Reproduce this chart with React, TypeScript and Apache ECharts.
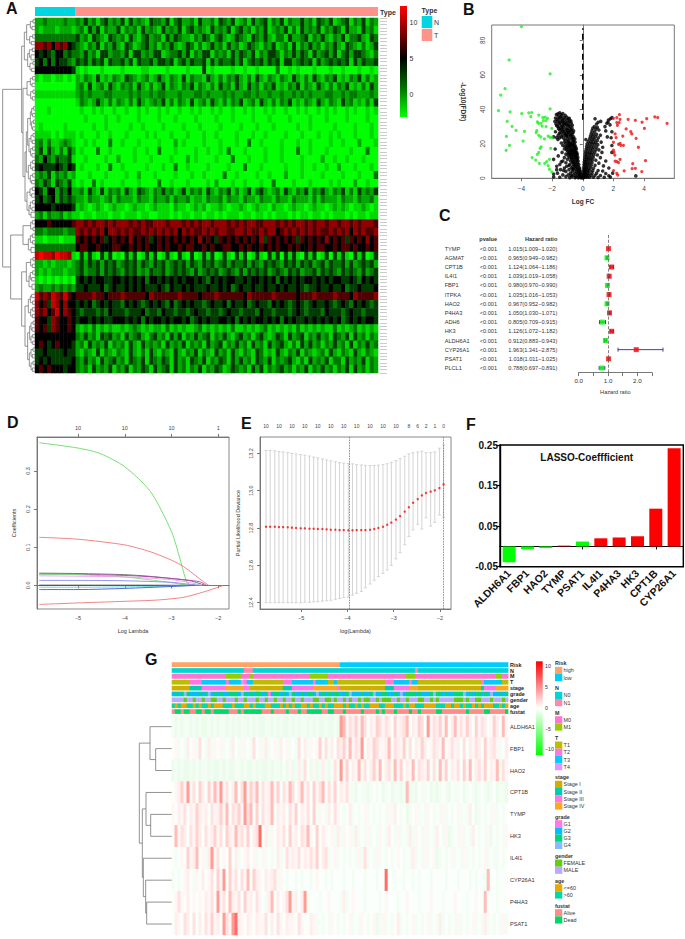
import React, { useEffect, useRef } from "react";
import * as echarts from "echarts";

const FONT = "'Liberation Sans', Arial, sans-serif";

// ---------- Panel A: expression heatmap (first 10 columns N, then 74 T; digit = expression level)
const heatA = [
"2232222322 3242313423 2414232143 3241342231 4223143241 2314234132 4132242314 3241 2341324132",
"2122212221 2314241322 4132314232 1423241342 3214232413 4231324123 2413142324 1324 3142214231",
"3333333333 4231432143 2314213423 3142432213 2431342124 3214324213 3142234132 4213 2413342143",
"7767576754 3213241324 2143123423 1324212431 3124231423 1243213241 2314132423 1324 2143213124",
"5454355343 3242314423 3241442324 4123342413 2441323142 4324132443 1324243142 3424 1342443213",
"4535354432 4342434143 3424143342 4434134243 3414243342 4134342434 1442343414 2343 4341424334",
"5555555554 1010001000 0100001100 0010000100 0401000010 0100100003 0010100010 0010 0100010010",
"1011011010 2132141213 2143212312 4213214132 2142131324 2131421321 3214213142 1324 1213241312",
"0000000000 2314123142 1323142131 2413213241 3213142314 2142313241 2132413214 2131 3241213142",
"1111111111 2323222332 2223232232 3322232223 3232223232 2332322322 3223232322 2332 2323322232",
"0000000000 1321242131 3213142123 2413132141 2314213132 4123142131 3241213214 2132 1423121314",
"0001000000 0100101001 0010010100 1010010010 1001010010 0101001010 0100101001 0101 0010100101",
"0000000000 0010000100 1000010000 1000100001 0000100010 0001000100 0010000100 0100 0010000100",
"0100000100 0000100100 0001001000 0100001000 1000010000 1000100010 0000100100 0001 0000100010",
"1111010111 0100010010 0010000101 0001000100 0100100001 0001001000 0100010001 0010 1000100010",
"2313112321 0010100030 0100010000 1000201000 0100010001 0030010000 1000100100 0010 0100020001",
"2414213142 0100030010 0000100100 3000100001 0010010300 0100001000 1000300100 0100 0001000300",
"3253243341 0010000100 2000100010 0001000201 0000100030 0010001000 1000010000 2001 0010001000",
"4544454354 0100010030 0100000100 0100300100 0010000100 0300010000 0100010010 0100 2000100010",
"2324132312 0001000100 0010020001 0000100010 0100003001 0000100100 0200010000 1000 0100010003",
"3243143241 0100301000 0100010000 3001000100 0010200010 0100010030 0001000100 0010 1000200100",
"5425524352 2314214132 3142143213 2423124132 3142132413 1241342123 1421324132 4213 2413142324",
"4534524343 2213221231 3222132213 2231322312 2132231322 1322132213 2213222131 3222 1322132231",
"5555455554 1210121012 1101211012 1110211012 1201121011 2101211021 1012110121 1012 1210112101",
"2313223121 1011011101 1011101100 1110101101 1011010111 0110110101 1101011011 0101 1101011011",
"5556555556 7767677676 7776767667 7767776767 6776777676 7677667776 7676776767 7677 6776767776",
"3323333233 7676767577 6767667676 7676757676 6767677667 7676676775 6767676767 6676 7675767667",
"1101110111 6565656456 5657565645 6565656565 7565465656 5656574656 5656465656 5756 5646565756",
"3333333333 5665565556 6556565655 6565565665 5656556655 6565565656 5565655656 6556 5665655656",
"8988798871 0414104140 1041401414 0141041040 1414014104 1401410414 0414104140 1404 1410414014",
"2212122212 3424342434 2343424324 3423434243 2434234243 3424324343 2434243423 4243 3424234342",
"2121222122 3423342434 3243423243 3423434324 2343423432 4243434234 3243423342 4343 2434324234",
"1010101010 4545455445 5454545355 4545454554 5435454554 4545545453 5454545545 4545 5445435454",
"2322323232 4454445345 4454545444 5435445454 4454454534 5445445445 4544543445 4454 4534454445",
"8676876865 6666766566 6766666576 6666676666 5666766666 6576666676 6666566676 6667 6665766667",
"7564875755 4545345454 4354543454 5435345454 4345445354 4534544354 5434543454 4543 4543545434",
"7675685765 4344434354 4434445344 3544344345 4434434544 3444354434 4434543444 3544 4345443444",
"6554765565 4554545445 5545453545 5454554534 5454455453 5454554545 3545445454 5454 5345454554",
"6564765565 2121312121 1212321212 2131212112 3121212131 1212123121 2121312121 2113 1212312121",
"5555555555 3242314342 3142342134 2314241324 2341324213 4231342124 3142341324 2314 3241423132",
"5654565554 2314232413 2314214232 3142324132 3142341324 2314231423 4213142423 1324 2314132423",
"4454444544 2132141321 3214213142 1321421324 1321423142 1321431214 2132413212 3142 1321421321",
"4545444445 3242314234 2314324143 2431423143 2413243142 4231432413 2342131423 2413 3142324132",
"5656555455 3231423241 3241324314 2341423132 4132431243 2314241323 4231324132 4231 3241423132",
];
const heatAColors = ["#00ff00","#00d800","#00a800","#007800","#003c00","#000000","#500000","#900000","#c80000","#ff0000"];
// [height, y1, y2, child height 1, child height 2] in gene rows
const dendroA = [
[6,0.5,1.5,0,0],[9,2.5,3.5,0,0],[14,1,3,6,9],[7,5,6,0,0],[11,7,8,0,0],[16,5.5,7.5,7,11],[25,2,6.5,14,16],
[8,9,10,0,0],[12,11,12.5,0,0],[17,9.5,11.7,8,12],[6,13,14,0,0],[10,15,16,0,0],[15,13.5,15.5,6,10],[22,10.6,14.5,17,15],[32,4.25,12.5,25,22],
[7,17.5,18.5,0,0],[9,19.5,20.5,0,0],[14,18,20,7,9],[6,21.5,22.5,0,0],[8,23.5,24.5,0,0],[13,22,24,6,8],[24,19,23,14,13],
[5,26.5,27.5,0,0],[7,28.5,29.5,0,0],[10,27,29,5,7],[5,30.5,31.5,0,0],[7,32.5,33.5,0,0],[10,31,33,5,7],[14,28,32,10,10],
[6,34.5,35.5,0,0],[8,36.5,37.5,0,0],[12,35,37,6,8],[7,38.5,39.5,0,0],[9,40.5,41.5,0,0],[13,39,41,7,9],[18,36,40,12,13],[22,30,38,14,18],
[7,42.5,43.5,0,0],[8,44.5,45.5,0,0],[13,43,45,7,8],[7,46.5,47.5,0,0],[10,48.5,49.5,0,0],[14,47,49,7,10],[20,44,48,13,14],[26,34,46,22,20],
[8,50.5,51.5,0,0],[10,52.5,53.5,0,0],[15,51,53,8,10],[7,54.5,55.5,0,0],[9,56.5,57.5,0,0],[12,58,59.5,0,0],[14,55,57,7,9],[18,56,58.75,14,12],[24,52,57.4,15,18],[30,40,54.7,26,24],
[36,21,47.35,24,30],[40,8.4,34.2,32,36],
[8,60.5,61.5,0,0],[6,62.5,63.5,0,0],[13,61,63,8,6],[8,64.5,65.5,0,0],[7,66.5,67.5,0,0],[12,68.5,70,0,0],[14,65,67,8,7],[20,66,69.25,14,12],[36,62,67.6,13,20],
[6,71.5,72.5,0,0],[8,73.5,74.5,0,0],[13,72,74,6,8],[7,75.5,76.5,0,0],[10,77.5,78.5,0,0],[14,76,78,7,10],[9,79.5,81,0,0],[18,77,80.25,14,9],[26,73,78.6,13,18],
[10,82.5,83.5,0,0],[7,84.5,85.5,0,0],[14,83,85,10,7],[8,86.5,87.5,0,0],[8,88.5,89.5,0,0],[13,87,89,8,8],[20,84,88,14,13],
[6,90.5,91.5,0,0],[9,92.5,93.5,0,0],[12,91,93,6,9],[7,94.5,95.5,0,0],[7,96.5,97.5,0,0],[12,95,97,7,7],[16,92,96,12,12],
[6,98.5,99.5,0,0],[8,100.5,101.5,0,0],[12,99,101,6,8],[6,102.5,103.5,0,0],[8,104.5,105.5,0,0],[12,103,105,6,8],[17,100,104,12,12],[22,94,102,16,17],
[30,86,98,20,22],[40,75.8,92,26,30],[73,64.8,83.9,36,40],[97,21.3,74.35,40,73],
];

// ---------- Panel B: volcano
const volcanoGreen = [[-4,87.9],[-4.8,68.6],[-2.13,60.5],[-5.07,52],[-5.35,48.3],[-5.5,39.2],[-2.13,40.2],[-4.74,38.5],[-3.98,37.5],[-3.52,37.9],[-3.33,38.1],[-3.39,35.7],[-2.87,36.7],[-4.93,33],[-4.61,30.1],[-4.35,27.8],[-3.8,27.2],[-3.89,21.6],[-4.98,24.3],[-4.78,19.1],[-5,16.2],[-3.3,12],[-2.96,13.9],[-2.78,17.4],[-2.72,18.2],[-2.87,15.1],[-3.07,10.6],[-2.83,8.7],[-2.48,8.7],[-2.35,9.7],[-2.17,11],[-2.26,7.3],[-2.17,5.2],[-2.02,3.7],[-2.96,32.7],[-2.89,31.9],[-2.61,35.2],[-2.46,35.4],[-2.3,34.8],[-2.57,33.4],[-2.39,33.4],[-2.65,30.3],[-2.39,30],[-3,27.6],[-3.04,26.5],[-2.87,24.9],[-2.74,24],[-2.5,22.8],[-2.26,24.5],[-2.13,23.8],[-2,23.6],[-2.09,17.4],[-2.02,29],[-2.72,31.9]];
const volcanoRed = [[2,34.8],[2.22,35.2],[2.39,36.9],[2.43,34.2],[2.96,34.2],[3.43,33.6],[3.87,32.5],[4.17,34.6],[4.7,35.6],[4.89,35.2],[5.5,31.9],[4.02,29],[3.13,27.1],[3.2,25.7],[3.48,23.2],[2.22,32.3],[2.37,32.3],[2.26,30.7],[2.83,28.6],[2.11,25.7],[2.61,24.5],[2.17,23.6],[2,20.9],[2.33,19.7],[2.43,20.3],[2.48,19.1],[2.65,19.1],[3.63,18],[2,16.4],[2.04,15.1],[2.09,13.5],[2.43,11],[2.22,9.7],[2.11,10],[2.33,9.1],[3.26,8.5],[4.09,10.2],[2,4.4],[2.22,2.9],[2.28,1.9],[2.7,4.3],[3.22,5.6],[3.43,5.8],[3.85,3.9]];
const volcanoBlackLeft = [[-1.72,37],[-1.5,38],[-1.3,37.5],[-1.15,36.5],[-1.6,36],[-1.4,36],[-1.05,35.5],[-0.95,34.5],[-1.78,35],[-1.55,34.5],[-1.35,34.5],[-1.2,34],[-0.85,33],[-1.65,33],[-1.45,33],[-1.28,32.5],[-1.1,32.5],[-0.95,32],[-0.75,32],[-1.75,31.5],[-1.55,31.5],[-1.38,31],[-1.18,31],[-1,30.5],[-0.82,30],[-1.62,30],[-1.45,29.5],[-1.25,29.5],[-1.08,29],[-0.9,28.8],[-0.7,29],[-1.5,28],[-1.3,28],[-1.15,27.5],[-0.98,27.5],[-0.8,27.2],[-0.6,27.5],[-1.42,26.5],[-1.2,26.2],[-1.05,26],[-0.88,25.8],[-0.7,25.5],[-1.6,25],[-1.32,25],[-1.12,24.6],[-0.95,24.3],[-0.78,24.2],[-0.6,24],[-1.9,24],[-1.7,23.6],[-1.5,23.5],[-1.25,23.3],[-1.02,23],[-0.85,22.8],[-0.68,22.6],[-0.52,22.8],[-1.2,21],[-1,21.2],[-0.82,20.8],[-0.65,21],[-0.5,21],[-1.1,20],[-0.92,20],[-0.75,19.8],[-0.58,20],[-1.3,19],[-0.98,19],[-0.85,18.8],[-0.68,19],[-0.5,19],[-1.05,18],[-0.8,18],[-0.62,18],[-0.45,17.8],[-1.8,17],[-1.2,17],[-0.9,17],[-0.72,17],[-0.55,16.8],[-0.42,17],[-1,16],[-0.82,16],[-0.66,16],[-0.48,16],[-1.35,15],[-0.9,15],[-0.75,15],[-0.58,15],[-0.4,15],[-1.1,14],[-0.82,14],[-0.65,14],[-0.5,14],[-0.36,14],[-1.6,13],[-0.95,13],[-0.72,13],[-0.55,13],[-0.38,13],[-1.2,12],[-0.85,12],[-0.62,12],[-0.46,12],[-0.32,12],[-1.9,11],[-1,11],[-0.72,11],[-0.55,11],[-0.36,11],[-1.3,10],[-0.8,10],[-0.6,10],[-0.42,10],[-0.3,10],[-1.1,9],[-0.7,9],[-0.5,9],[-0.34,9],[-1.5,8],[-0.85,8],[-0.58,8],[-0.4,8],[-0.26,8],[-1.7,7],[-1.05,7],[-0.65,7],[-0.46,7],[-0.3,7],[-1.2,6],[-0.75,6],[-0.5,6],[-0.34,6],[-0.2,6],[-1.45,5],[-0.9,5],[-0.6,5],[-0.38,5],[-0.22,5],[-1.1,4],[-0.68,4],[-0.42,4],[-0.26,4],[-0.15,4],[-1.65,3],[-0.8,3],[-0.5,3],[-0.3,3],[-0.17,3],[-1.3,2],[-0.95,2],[-0.6,2],[-0.36,2],[-0.2,2],[-0.1,2],[-1.1,1],[-0.7,1],[-0.45,1],[-0.25,1],[-0.12,1],[-0.05,1],[-0.85,0.4],[-0.5,0.4],[-0.3,0.4],[-0.15,0.4],[-0.06,0.4]];
const volcanoBlackLeftMore = [[-1.62,37.4],[-1.42,37],[-1.22,35.2],[-0.88,34.8],[-1.68,34],[-1.48,35.3],[-1.02,33.6],[-0.78,33.4],[-1.82,33],[-1.33,33.3],[-1.52,32.2],[-1.22,32],[-0.9,30.8],[-1.7,30.5],[-1.33,30.2],[-1.06,31.2],[-0.68,30.8],[-1.58,28.8],[-1.38,28.6],[-1.02,28.2],[-0.76,28.1],[-1.78,27],[-1.28,27],[-0.92,26.7],[-0.64,26.4],[-1.52,26.1],[-1.1,25.4],[-0.78,25.1],[-1.4,24.2],[-1.05,24.8],[-0.66,23.4],[-1.62,22.5],[-1.15,22.2],[-0.94,21.6],[-0.6,21.8],[-1.4,20.5],[-0.85,20.2],[-0.66,19.6],[-1.15,18.5],[-0.92,18.2],[-0.55,18.4],[-1.05,16.6],[-0.75,16.2],[-0.56,15.6],[-0.95,14.4],[-0.7,14.6],[-0.44,14.6],[-0.8,13.5],[-0.48,13.2],[-0.72,11.8],[-0.42,11.4],[-1.4,9.5],[-0.62,9.3],[-0.9,7.4],[-0.5,7.5],[-1.7,5],[-0.65,5.6],[-1.9,2.5],[-0.75,1.6],[-1.5,0.6],[-1.9,0.8],[-1.25,4.5]];
const volcanoBlackRight = [[0.8,34.5],[1.17,33],[1.67,33.8],[1.9,35.2],[1.8,34.5],[1.57,31.9],[1.78,31],[1.65,32.5],[1.45,30],[0.9,31.5],[1,32.5],[0.75,30],[0.95,29.5],[0.65,29],[0.85,28.5],[1.05,28],[0.6,27.5],[0.78,27],[1.5,27.5],[1.9,27],[0.55,26],[0.7,25.5],[0.9,25.5],[1.15,25],[0.5,24.5],[0.65,24],[0.82,24],[1.02,23.5],[1.6,24],[1.85,23.5],[0.45,23],[0.6,22.6],[0.75,22.5],[0.95,22],[0.2,22.5],[0.35,21.5],[0.52,21.2],[0.68,21],[0.85,20.8],[1.2,21],[0.28,20],[0.45,20],[0.6,19.8],[0.78,19.5],[0.98,19.5],[1.9,19],[0.25,18.5],[0.4,18.5],[0.55,18.3],[0.7,18],[0.9,18],[1.3,18],[0.22,17],[0.35,17],[0.5,16.8],[0.65,16.6],[0.85,16.5],[1.05,16.5],[0.18,15.5],[0.32,15.4],[0.46,15.2],[0.6,15],[0.78,15],[1.25,15],[1.9,15],[0.16,14],[0.28,14],[0.42,13.8],[0.55,13.6],[0.72,13.5],[0.95,13.5],[0.14,12.5],[0.26,12.4],[0.38,12.2],[0.52,12],[0.68,12],[1.15,12],[0.12,11],[0.24,11],[0.35,10.8],[0.48,10.6],[0.62,10.5],[0.85,10.5],[1.5,10],[0.1,9.5],[0.2,9.5],[0.32,9.2],[0.45,9],[0.6,9],[1.05,8.8],[0.08,8],[0.18,8],[0.28,7.8],[0.4,7.6],[0.55,7.5],[0.8,7.5],[1.35,7.2],[0.07,6.5],[0.16,6.4],[0.25,6.2],[0.36,6],[0.5,6],[0.7,5.8],[1.7,6],[0.05,5],[0.13,5],[0.22,4.8],[0.32,4.6],[0.45,4.5],[0.65,4.4],[1,4.5],[1.3,4.2],[0.04,3.5],[0.1,3.4],[0.18,3.3],[0.28,3.2],[0.4,3],[0.6,3],[0.9,3],[1.5,2.8],[1.95,3],[0.03,2],[0.08,2],[0.15,2],[0.24,1.9],[0.36,1.8],[0.55,1.7],[0.8,1.8],[1.15,1.6],[1.7,1.5],[0.02,1],[0.06,1],[0.12,0.9],[0.2,0.8],[0.3,0.7],[0.45,0.6],[0.7,0.6],[1,0.5],[1.4,0.6],[1.8,0.7],[0.01,0.3],[0.04,0.3],[3.46,1.4]];

// ---------- Panel C: forest plot
const coxGenes = ["TYMP","AGMAT","CPT1B","IL4I1","FBP1","ITPKA","HAO2","P4HA3","ADH6","HK3","ALDH6A1","CYP26A1","PSAT1","PLCL1"];
const coxHr = [1.015,0.965,1.124,1.039,0.98,1.035,0.967,1.05,0.805,1.126,0.912,1.963,1.018,0.788];
const coxLow = [1.009,0.949,1.064,1.019,0.97,1.016,0.952,1.03,0.709,1.072,0.883,1.341,1.011,0.697];
const coxHigh = [1.02,0.982,1.186,1.058,0.99,1.053,0.982,1.071,0.915,1.182,0.943,2.875,1.025,0.891];

// ---------- Panel D: LASSO coefficient paths
const pathColors = ["#66dd66","#ee7777","#666666","#aa44aa","#77dd77","#ee99ee","#8888ee","#444444","#55dddd","#4455dd","#ee7777"];
const pathData = [
 [[-5.83,0.374],[-5,0.36],[-4.53,0.346],[-4,0.311],[-3.45,0.246],[-3,0.141],[-2.82,0.07],[-2.68,0.01],[-2.6,0]],
 [[-5.83,0.126],[-5,0.121],[-4,0.106],[-3.45,0.088],[-3,0.066],[-2.74,0.049],[-2.3,0.008],[-2.2,0]],
 [[-5.83,0.032],[-5,0.031],[-4,0.028],[-3.5,0.024],[-3,0.018],[-2.6,0.012],[-2.28,0]],
 [[-5.83,0.03],[-5,0.029],[-4,0.026],[-3.5,0.023],[-3,0.018],[-2.4,0.0095],[-2.25,0]],
 [[-5.83,0.029],[-5,0.028],[-4,0.022],[-3.5,0.015],[-3,0.007],[-2.75,0.002],[-2.6,0]],
 [[-5.83,0.025],[-5,0.024],[-4,0.022],[-3,0.015],[-2.6,0.007],[-2.35,0]],
 [[-5.83,0.013],[-5,0.013],[-4,0.012],[-3,0.008],[-2.7,0.004],[-2.4,0]],
 [[-5.83,0.0005],[-4,0.0005],[-3,0.0002],[-2.5,0]],
 [[-5.83,-0.005],[-5,-0.005],[-4,-0.004],[-3,-0.002],[-2.5,0]],
 [[-5.83,-0.011],[-5,-0.011],[-4,-0.008],[-3,-0.003],[-2.5,0]],
 [[-5.83,-0.05],[-4.75,-0.045],[-4.04,-0.042],[-3.32,-0.0386],[-2.75,-0.0315],[-2.33,-0.018],[-1.93,-0.002],[-1.9,0]],
];
const dTopValues = [-5,-4,-3,-2];
const dTopLabels = ["10","10","10","1"];

// ---------- Panel E: cross validation
const cvLambda = [-5.76,-5.67,-5.57,-5.48,-5.39,-5.29,-5.2,-5.11,-5.01,-4.92,-4.82,-4.73,-4.64,-4.54,-4.45,-4.36,-4.26,-4.17,-4.08,-3.98,-3.89,-3.8,-3.7,-3.61,-3.51,-3.42,-3.33,-3.23,-3.14,-3.05,-2.95,-2.86,-2.76,-2.67,-2.58,-2.48,-2.39,-2.3,-2.2,-2.11,-2.01,-1.92];
const cvMean = [12.807,12.807,12.807,12.805,12.805,12.804,12.802,12.8,12.798,12.798,12.796,12.796,12.795,12.795,12.793,12.791,12.791,12.789,12.789,12.788,12.788,12.789,12.789,12.789,12.791,12.795,12.8,12.807,12.818,12.829,12.845,12.864,12.888,12.911,12.936,12.955,12.975,12.988,12.995,13.002,13.014,13.034];
const cvUpper = [13.216,13.216,13.214,13.21,13.208,13.204,13.2,13.197,13.194,13.19,13.186,13.18,13.176,13.17,13.165,13.16,13.155,13.15,13.148,13.146,13.144,13.14,13.138,13.136,13.135,13.135,13.137,13.14,13.145,13.152,13.162,13.172,13.185,13.198,13.204,13.208,13.212,13.204,13.204,13.208,13.228,13.246];
const cvLower = [12.4,12.4,12.4,12.4,12.4,12.4,12.4,12.4,12.4,12.402,12.402,12.404,12.405,12.408,12.41,12.413,12.418,12.422,12.427,12.43,12.44,12.45,12.46,12.48,12.5,12.52,12.54,12.557,12.575,12.6,12.635,12.668,12.71,12.755,12.79,12.82,12.795,12.855,12.81,12.83,12.87,12.858];
const eTopValues = [-5.76,-5.48,-5.2,-4.92,-4.64,-4.36,-4.08,-3.8,-3.51,-3.23,-2.95,-2.67,-2.48,-2.3,-2.11,-1.92];
const eTopLabels = ["10","10","10","10","10","10","10","10","10","10","10","8","6","2","1","0"];

// ---------- Panel F: LASSO coefficients
const lassoGenes = ["ALDH6A1","FBP1","HAO2","TYMP","PSAT1","IL4I1","P4HA3","HK3","CPT1B","CYP26A1"];
const lassoValues = [-0.039,-0.007,-0.004,0.002,0.012,0.02,0.022,0.025,0.093,0.242];
const lassoColors = ["#00ff00","#00ff00","#00ff00","#ff0000","#00ff00","#ff0000","#ff0000","#ff0000","#ff0000","#ff0000"];

// ---------- Panel G: annotated risk heatmap
const trackNames = ["Risk","N","M","T","stage","grade","gender","age","fustat"];
const trackLevels = [
 [["high","#ffa366"],["low","#00ccff"]],
 [["N0","#00d5d5"],["N1","#ff88aa"]],
 [["M0","#ff77cc"],["M1","#99cc00"]],
 [["T1","#bdbd00"],["T2","#ff77dd"],["T3","#00ccff"],["T4","#dd99ff"]],
 [["Stage I","#ccaf00"],["Stage II","#00ccb0"],["Stage III","#ff77e5"],["Stage IV","#ffa620"]],
 [["G1","#ff77ee"],["G2","#00bfff"],["G3","#00d67a"],["G4","#88bbff"]],
 [["FEMALE","#66cc11"],["MALE","#bbaaff"]],
 [["<=60","#e5aa00"],[">60","#00d9a5"]],
 [["Alive","#ff8c85"],["Dead","#00d966"]],
];
const riskRuns = [[0,56],[1,56]];
const nRuns = [[0,24],[1,3],[0,54],[1,1],[0,30]];
const mRuns = [[0,18],[1,5],[0,3],[1,1],[0,19],[1,6],[0,26],[1,3],[0,27],[1,2],[0,2]];
const tRuns = [[0,6],[1,4],[2,8],[1,1],[2,4],[3,1],[1,1],[2,2],[0,10],[1,3],[2,7],[1,1],[2,4],[0,2],[2,1],[0,16],[1,3],[2,5],[1,1],[2,2],[0,21],[1,1],[2,6],[0,2]];
const stageRuns = [[0,6],[1,4],[2,8],[3,6],[2,2],[0,11],[1,3],[2,7],[3,8],[2,1],[0,15],[1,3],[2,5],[3,3],[0,21],[1,1],[2,4],[3,4]];
const gradeTrack = "1212321112 1231212112 2213212122 1201221213 2112122131 2121221123 1112112311 2211213122 2121112322 1211222312 1221213112 12";
const genderTrack = "1111011011 0110011011 1011011101 1011011011 0110111001 1001011010 1101001101 0001101101 1100110101 1111000101 1001110111 01";
const ageTrack = "1010011010 1101000111 0111001011 1001110101 0110010110 1011000101 1010110001 1000111010 0111000011 1001001011 0101000110 10";
const fustatTrack = "0110110011 0110111110 0010111111 0001000010 0010011111 0011000100 0001000010 1000100001 0010000011 0000000010 0000110000 01";
const heatGenes = ["ALDH6A1","FBP1","HAO2","CPT1B","TYMP","HK3","IL4I1","CYP26A1","P4HA3","PSAT1"];
const heatG = [
"1010110101 0010101101 0101101010 0110101001 0101101010 0100108735 4637524365 3542634572 4365283546 3724735364 2635423642 73",
"2312142315 2141323121 4213121523 1412314231 2152413236 2514254637 3548243653 3472543615 2436423543 7235342524 3542634531 24",
"0101001010 1101001010 0110100101 0010110203 0141520301 4102518362 4371524637 2451736243 7254362517 3624352637 2453624371 53",
"2346383526 4263748352 4725836472 5347362537 5247352635 7253624351 1021101212 0120110170 1021120101 2102112012 1012101201 10",
"3243524364 3425346372 5463857262 5347243425 3624352613 2142532124 1212312121 2131421201 2312132121 3121231214 2012121312 12",
"2735425364 2534635264 3745362459 2413243526 3425473262 4323141323 1412131213 2142131214 1321312142 1301213121 4212130212 13",
"2123263472 3148352326 2412342312 3121241253 4352435362 4512312121 2131512131 2121232121 4121312301 2123121312 1212312112 12",
"1212342132 4235263826 3525372643 2434513212 2121221232 2121222122 1222122212 2922122122 1212221222 2122212221 2122172212 22",
"2353242323 2435283527 4352634253 2147242358 3424812221 2232221412 3222122221 2322212232 2212223222 1222322212 2322722212 22",
"2432542524 2536342853 8943243243 3524253243 3253224312 1213212123 1213212301 3121241212 3121231214 1212131212 3121412121 31",
];
const heatGColors = ["#ecfcec","#f4fdf4","#fbfffb","#fff6f5","#ffeeec","#ffe2e0","#ffd2cf","#ffbcb8","#ff9c96","#ff6e66"];
const dendroG = [[48,1,2,0,0],[65,0,1.5,0,48],[63,4,5,0,0],[77,3,4.5,0,63],[75,8,9,0,0],[78,7,8.5,0,75],[85,6,7.75,0,78],[88,3.75,6.875,77,85],[97,0.75,5.31,65,88]];

// ---------- helpers
const expandRuns = (runs: number[][]) => runs.flatMap(([v, n]) => Array(n).fill(v));
const digits = (s: string) => s.replace(/ /g, "").split("").map(Number);
const ids = (n: number) => Array.from({ length: n }, (_, i) => String(i));
const cellsOf = (rows: string[], ncol: number) => {
  const out: number[][] = [];
  rows.forEach((row, r) => {
    const d = digits(row);
    for (let c = 0; c < ncol; c++) out.push([c, r, d[c % d.length]]);
  });
  return out;
};
const trackRows = [expandRuns(riskRuns), expandRuns(nRuns), expandRuns(mRuns), expandRuns(tRuns), expandRuns(stageRuns), digits(gradeTrack), digits(genderTrack), digits(ageTrack), digits(fustatTrack)];

const txt = (text: string, x: number, y: number, o: any = {}) => ({
  type: "text", x, y, rotation: o.rotation || 0, silent: true,
  style: { text, fontFamily: FONT, fontSize: o.size || 5.6, fontWeight: o.bold ? "bold" : "normal", fill: o.fill || "#333", align: o.align || "left", verticalAlign: "middle" },
});
const rect = (x: number, y: number, width: number, height: number, fill: any) => ({ type: "rect", shape: { x, y, width, height }, style: { fill }, silent: true });

const dendroSeries = (xAxisIndex: number, yAxisIndex: number, data: number[][], stroke: string) => ({
  type: "custom", xAxisIndex, yAxisIndex, data, silent: true,
  dimensions: ["h", "y1", "y2", "h1", "h2"], encode: { x: 0, y: 1 },
  renderItem: (_p: any, api: any) => {
    const a = api.coord([api.value(3), api.value(1)]);
    const b = api.coord([api.value(0), api.value(1)]);
    const c = api.coord([api.value(0), api.value(2)]);
    const d = api.coord([api.value(4), api.value(2)]);
    return { type: "polyline", shape: { points: [a, b, c, d] }, style: { stroke, fill: "none", lineWidth: 0.8 } };
  },
});
const greyAxis = (o: any) => ({
  axisLine: { show: true, lineStyle: { color: "#777", width: 1 } },
  axisTick: { show: true, length: 3, lineStyle: { color: "#777", width: 0.8 } },
  axisLabel: { color: "#444", fontSize: 5.5, fontFamily: FONT, margin: 5 },
  splitLine: { show: false },
  nameTextStyle: { color: "#333", fontSize: 5.5, fontFamily: FONT },
  nameLocation: "middle",
  ...o,
});
const hidden = (o: any) => ({ show: false, splitLine: { show: false }, ...o });

function buildOption() {
  const geneRowsC = ["", ...coxGenes];
  const rowYC = (i: number) => 248.7 + i * 9.18;
  const graphics: any[] = [
    // panel letters
    txt("A", 6, 8, { size: 16, bold: true, fill: "#111" }),
    txt("B", 463, 9.5, { size: 16, bold: true, fill: "#111" }),
    txt("C", 439, 215, { size: 16, bold: true, fill: "#111" }),
    txt("D", 7, 422, { size: 16, bold: true, fill: "#111" }),
    txt("E", 241, 423, { size: 16, bold: true, fill: "#111" }),
    txt("F", 466, 424, { size: 16, bold: true, fill: "#111" }),
    txt("G", 145, 659, { size: 16, bold: true, fill: "#111" }),
    // panel A annotation + legends
    rect(35, 7, 40.7, 9, "#00d5e0"),
    rect(75.7, 7, 302.3, 9, "#ff9289"),
    txt("Type", 380, 12, { size: 7, bold: true }),
    rect(400, 6, 7, 111, new (echarts as any).graphic.LinearGradient(0, 0, 0, 1, [
      { offset: 0, color: "#ff0000" }, { offset: 0.24, color: "#800000" }, { offset: 0.47, color: "#000000" }, { offset: 0.72, color: "#006a00" }, { offset: 1, color: "#00ff00" },
    ])),
    txt("10", 409.5, 22.7, { size: 7 }), txt("5", 409.5, 58.7, { size: 7 }), txt("0", 409.5, 94.3, { size: 7 }),
    txt("Type", 421.5, 10, { size: 7, bold: true }),
    rect(421.7, 16, 10.6, 12, "#00d5e0"), rect(421.7, 29, 10.6, 12, "#ff9289"),
    txt("N", 434, 22, { size: 7 }), txt("T", 434, 35, { size: 7 }),
    // panel C table
    txt("pvalue", 497, 239.3, { align: "right", bold: true }),
    txt("Hazard ratio", 557.3, 239.3, { align: "right", bold: true }),
    // panel F title
    txt("LASSO-Coeffficient", 586.7, 457.3, { align: "center", bold: true, size: 10, fill: "#111" }),
    // panel G colour bar
    rect(536, 661.3, 6.7, 93.7, new (echarts as any).graphic.LinearGradient(0, 0, 0, 1, [
      { offset: 0, color: "#ff0000" }, { offset: 0.5, color: "#ffffff" }, { offset: 1, color: "#00ff00" },
    ])),
    txt("10", 545, 666, { size: 5.2 }), txt("5", 545, 686.7, { size: 5.2 }), txt("0", 545, 708, { size: 5.2 }),
    txt("\u22125", 545, 728.7, { size: 5.2 }), txt("\u221210", 545, 749.3, { size: 5.2 }),
  ];
  coxGenes.forEach((g, i) => {
    const y = rowYC(i);
    const hrText = `${coxHr[i].toFixed(3)}(${coxLow[i].toFixed(3)}\u2212${coxHigh[i].toFixed(3)})`;
    graphics.push(txt(g, 444.7, y), txt("<0.001", 497, y, { align: "right" }), txt(hrText, 557.3, y, { align: "right" }));
  });
  // panel G legend
  const legendTop = [663.3, 688.3, 712.7, 738, 777.3, 816.7, 856, 880.7, 905.7];
  trackNames.forEach((name, t) => {
    graphics.push(txt(name, 555, legendTop[t], { bold: true, size: 5.4 }));
    trackLevels[t].forEach(([lab, col], k) => {
      const y = legendTop[t] + 7.1 + k * 7.2;
      graphics.push(rect(555, y - 3.6, 7.3, 7.2, col), txt(lab, 563.6, y, { size: 5.4 }));
    });
  });

  const grids = [
    { left: 35, top: 18, width: 343, height: 355 }, // 0 A heat
    { left: 2, top: 18, width: 33, height: 355 }, // 1 A dendro
    { left: 491.7, top: 25, width: 182.6, height: 153.3, show: true, borderColor: "#777", borderWidth: 1 }, // 2 B
    { left: 578.7, top: 234.9, width: 73.3, height: 137.7 }, // 3 C
    { left: 37, top: 437, width: 192, height: 172, show: true, borderColor: "#888", borderWidth: 1 }, // 4 D
    { left: 260, top: 437, width: 191, height: 172, show: true, borderColor: "#888", borderWidth: 1 }, // 5 E
    { left: 500, top: 445, width: 183.3, height: 121.7, show: true, borderColor: "#000", borderWidth: 1.4 }, // 6 F
    { left: 171.7, top: 661.7, width: 336.3, height: 52.8 }, // 7 G tracks
    { left: 171.7, top: 715.7, width: 336.3, height: 219.3 }, // 8 G heat
    { left: 138, top: 715.7, width: 33.7, height: 219.3 }, // 9 G dendro
  ];

  const xAxis: any[] = [
    hidden({ gridIndex: 0, type: "category", data: ids(84) }), // 0
    hidden({ gridIndex: 1, type: "value", min: 0, max: 99, inverse: true }), // 1
    greyAxis({ gridIndex: 2, type: "value", min: -5.94, max: 5.97, name: "Log FC", nameGap: 20,
      nameTextStyle: { color: "#333", fontSize: 6.5, fontWeight: "bold", fontFamily: FONT },
      axisLabel: { color: "#444", fontSize: 6.5, fontFamily: FONT, margin: 7, customValues: [-4, -2, 0, 2, 4], formatter: (v: number) => (v < 0 ? "\u2212" + -v : String(v)) },
      axisTick: { show: true, length: 3, customValues: [-4, -2, 0, 2, 4], lineStyle: { color: "#777" } } }), // 2
    greyAxis({ gridIndex: 3, type: "value", min: 0, max: 2.5, interval: 0.5, name: "Hazard ratio", nameGap: 16,
      nameTextStyle: { color: "#333", fontSize: 5.6, fontFamily: FONT },
      axisLine: { show: true, lineStyle: { color: "#555", width: 0.8 } },
      axisTick: { show: true, length: 3.5, lineStyle: { color: "#555", width: 0.8 } },
      axisLabel: { color: "#333", fontSize: 6.2, fontFamily: FONT, margin: 5, customValues: [0, 1, 2], formatter: (v: number) => v.toFixed(1) } }), // 3
    greyAxis({ gridIndex: 4, type: "value", min: -5.878, max: -1.77, name: "Log Lambda", nameGap: 19,
      axisLabel: { color: "#444", fontSize: 5.5, fontFamily: FONT, margin: 6, customValues: dTopValues, formatter: (v: number) => "\u2212" + -v },
      axisTick: { show: true, length: 3, customValues: dTopValues, lineStyle: { color: "#777" } } }), // 4
    greyAxis({ gridIndex: 4, type: "value", position: "top", min: -5.878, max: -1.77,
      axisLabel: { color: "#444", fontSize: 5.5, fontFamily: FONT, margin: 6, customValues: dTopValues, formatter: (v: number) => dTopLabels[dTopValues.indexOf(v)] },
      axisTick: { show: true, length: 3, customValues: dTopValues, lineStyle: { color: "#777" } } }), // 5
    greyAxis({ gridIndex: 5, type: "value", min: -5.89, max: -1.76, name: "log(Lambda)", nameGap: 19,
      axisLabel: { color: "#444", fontSize: 5.5, fontFamily: FONT, margin: 6, customValues: dTopValues, formatter: (v: number) => "\u2212" + -v },
      axisTick: { show: true, length: 3, customValues: dTopValues, lineStyle: { color: "#777" } } }), // 6
    greyAxis({ gridIndex: 5, type: "value", position: "top", min: -5.89, max: -1.76,
      axisLine: { show: false }, axisTick: { show: false },
      axisLabel: { color: "#444", fontSize: 5, fontFamily: FONT, margin: 9, customValues: eTopValues, formatter: (v: number) => eTopLabels[eTopValues.indexOf(v)] } }), // 7
    { gridIndex: 6, type: "category", data: lassoGenes, position: "bottom", axisLine: { onZero: false, show: false }, axisTick: { show: false }, splitLine: { show: false },
      axisLabel: { color: "#111", fontWeight: "bold", fontSize: 10.5, fontFamily: FONT, rotate: 45, margin: 5, interval: 0 } }, // 8
    { gridIndex: 6, type: "category", data: lassoGenes, position: "top", axisLine: { onZero: true, lineStyle: { color: "#000", width: 1.2 } }, axisTick: { show: true, inside: true, alignWithLabel: true, length: 3, lineStyle: { color: "#000" } }, axisLabel: { show: false }, splitLine: { show: false } }, // 9
    hidden({ gridIndex: 7, type: "value", min: 0, max: 112 }), // 10
    hidden({ gridIndex: 8, type: "category", data: ids(112) }), // 11
    hidden({ gridIndex: 9, type: "value", min: 0, max: 101, inverse: true }), // 12
  ];

  const yAxis: any[] = [
    hidden({ gridIndex: 0, type: "category", inverse: true, data: ids(heatA.length) }), // 0
    { gridIndex: 0, type: "value", position: "right", offset: 2, min: 0, max: 106, interval: 1, inverse: true, axisLine: { show: false }, axisLabel: { show: false }, splitLine: { show: false }, axisTick: { show: true, length: 7, lineStyle: { color: "#b5b5b5", width: 0.7 } } }, // 1
    hidden({ gridIndex: 1, type: "value", min: 0, max: 106, inverse: true }), // 2
    greyAxis({ gridIndex: 2, type: "value", min: 0, max: 88.9, name: "-Log10(FDR)", nameGap: 25, nameRotate: -90,
      nameTextStyle: { color: "#333", fontSize: 6.5, fontWeight: "bold", fontFamily: FONT },
      axisTick: { show: true, length: 3, customValues: [0, 20, 40, 60, 80], lineStyle: { color: "#777" } },
      axisLabel: { color: "#444", fontSize: 6.5, fontFamily: FONT, rotate: 90, margin: 6, customValues: [0, 20, 40, 60, 80] } }), // 3
    hidden({ gridIndex: 3, type: "category", inverse: true, data: geneRowsC }), // 4
    greyAxis({ gridIndex: 4, type: "value", min: -0.062, max: 0.389, name: "Coefficients", nameGap: 20,
      axisLabel: { color: "#444", fontSize: 5.5, fontFamily: FONT, rotate: 90, margin: 6, customValues: [0, 0.1, 0.2, 0.3], formatter: (v: number) => v.toFixed(1) },
      axisTick: { show: true, length: 3, customValues: [0, 0.1, 0.2, 0.3], lineStyle: { color: "#777" } } }), // 5
    greyAxis({ gridIndex: 5, type: "value", min: 12.366, max: 13.288, name: "Partial Likelihood Deviance", nameGap: 19,
      axisLabel: { color: "#444", fontSize: 5.5, fontFamily: FONT, rotate: 90, margin: 6, customValues: [12.4, 12.6, 12.8, 13, 13.2], formatter: (v: number) => v.toFixed(1) },
      axisTick: { show: true, length: 3, customValues: [12.4, 12.6, 12.8, 13, 13.2], lineStyle: { color: "#777" } } }), // 6
    { gridIndex: 6, type: "value", min: -0.05, max: 0.25, splitLine: { show: false },
      axisLine: { show: true, lineStyle: { color: "#000", width: 1.4 } },
      axisTick: { show: true, length: 4, customValues: [-0.05, 0.05, 0.15, 0.25], lineStyle: { color: "#000", width: 1.2 } },
      axisLabel: { color: "#111", fontWeight: "bold", fontSize: 10, fontFamily: FONT, margin: 2, customValues: [-0.05, 0.05, 0.15, 0.25], formatter: (v: number) => v.toFixed(2) } }, // 7
    { gridIndex: 7, type: "category", inverse: true, position: "right", data: trackNames, axisLine: { show: false }, axisTick: { show: false }, splitLine: { show: false },
      axisLabel: { color: "#222", fontSize: 5.4, fontWeight: "bold", fontFamily: FONT, margin: 2, interval: 0 } }, // 8
    { gridIndex: 8, type: "category", inverse: true, position: "right", data: heatGenes, axisLine: { show: false }, axisTick: { show: false }, splitLine: { show: false },
      axisLabel: { color: "#333", fontSize: 5.6, fontFamily: FONT, margin: 2, interval: 0 } }, // 9
    hidden({ gridIndex: 9, type: "value", min: -0.5, max: 9.5, inverse: true }), // 10
  ];

  const trackCells: number[][] = [];
  trackRows.forEach((row, t) => row.forEach((lv: number, c: number) => trackCells.push([c, t, lv])));

  const series: any[] = [
    { type: "heatmap", xAxisIndex: 0, yAxisIndex: 0, data: cellsOf(heatA, 84), progressive: 0, silent: true },
    { type: "heatmap", xAxisIndex: 11, yAxisIndex: 9, data: cellsOf(heatG, 112), progressive: 0, silent: true },
    dendroSeries(1, 2, dendroA, "#777"),
    dendroSeries(12, 10, dendroG, "#777"),
    // B
    { type: "scatter", xAxisIndex: 2, yAxisIndex: 3, data: [...volcanoBlackLeft, ...volcanoBlackLeftMore, ...volcanoBlackRight], symbolSize: 3.6, itemStyle: { color: "#000" }, silent: true },
    { type: "scatter", xAxisIndex: 2, yAxisIndex: 3, data: volcanoGreen, symbolSize: 3.2, itemStyle: { color: "#22ee22" }, silent: true },
    { type: "scatter", xAxisIndex: 2, yAxisIndex: 3, data: volcanoRed, symbolSize: 3.2, itemStyle: { color: "#ee1111" }, silent: true },
    { type: "line", xAxisIndex: 2, yAxisIndex: 3, data: [[0, 34], [0, 87]], symbol: "none", silent: true, lineStyle: { color: "#000", width: 1.5, type: [6, 4] } },
    // C
    { type: "custom", xAxisIndex: 3, yAxisIndex: 4, silent: true, z: 3,
      data: coxGenes.map((g, i) => [coxLow[i], g, coxHigh[i]]), encode: { x: 0, y: 1 },
      renderItem: (_p: any, api: any) => {
        const a = api.coord([api.value(0), api.value(1)]);
        const b = api.coord([api.value(2), api.value(1)]);
        const s = { stroke: "#2a2a9a", lineWidth: 0.9 };
        return { type: "group", children: [
          { type: "line", shape: { x1: a[0], y1: a[1], x2: b[0], y2: b[1] }, style: s },
          { type: "line", shape: { x1: a[0], y1: a[1] - 2, x2: a[0], y2: a[1] + 2 }, style: s },
          { type: "line", shape: { x1: b[0], y1: b[1] - 2, x2: b[0], y2: b[1] + 2 }, style: s },
        ] };
      } },
    { type: "scatter", xAxisIndex: 3, yAxisIndex: 4, z: 4, silent: true, symbol: "rect", symbolSize: 5,
      data: coxGenes.map((g, i) => ({ value: [coxHr[i], g], itemStyle: { color: coxHr[i] > 1 ? "#ff0000" : "#00f000" } })),
      markLine: { silent: true, symbol: "none", animation: false, label: { show: false }, lineStyle: { color: "#666", type: "dashed", width: 0.8 }, data: [{ xAxis: 1 }] } },
    // D
    ...pathData.map((d, i) => ({ type: "line", xAxisIndex: 4, yAxisIndex: 5, data: d, symbol: "none", smooth: 0.25, silent: true, lineStyle: { color: pathColors[i], width: 0.9 } })),
    // E
    { type: "custom", xAxisIndex: 6, yAxisIndex: 6, silent: true,
      data: cvLambda.map((x, i) => [x, cvLower[i], cvUpper[i]]), encode: { x: 0, y: [1, 2] },
      renderItem: (_p: any, api: any) => {
        const a = api.coord([api.value(0), api.value(1)]);
        const b = api.coord([api.value(0), api.value(2)]);
        const s = { stroke: "#cfcfcf", lineWidth: 0.9 };
        return { type: "group", children: [
          { type: "line", shape: { x1: a[0], y1: a[1], x2: b[0], y2: b[1] }, style: s },
          { type: "line", shape: { x1: a[0] - 1.5, y1: a[1], x2: a[0] + 1.5, y2: a[1] }, style: s },
          { type: "line", shape: { x1: b[0] - 1.5, y1: b[1], x2: b[0] + 1.5, y2: b[1] }, style: s },
        ] };
      } },
    { type: "scatter", xAxisIndex: 6, yAxisIndex: 6, silent: true, data: cvLambda.map((x, i) => [x, cvMean[i]]), symbolSize: 2.4, itemStyle: { color: "#ee1111" },
      markLine: { silent: true, symbol: "none", animation: false, label: { show: false }, lineStyle: { color: "#555", type: "dotted", width: 0.8 }, data: [{ xAxis: -3.96 }, { xAxis: -1.93 }] } },
    // F
    { type: "bar", xAxisIndex: 8, yAxisIndex: 7, barWidth: 13, silent: true, data: lassoValues.map((v, i) => ({ value: v, itemStyle: { color: lassoColors[i] } })) },
    // G tracks
    { type: "custom", xAxisIndex: 10, yAxisIndex: 8, silent: true, data: trackCells, encode: { x: 0, y: 1 },
      renderItem: (_p: any, api: any) => {
        const t = api.value(1);
        const a = api.coord([api.value(0), t]);
        const b = api.coord([api.value(0) + 1, t]);
        const h = api.size([0, 1])[1] * 0.8;
        return { type: "rect", shape: { x: a[0], y: a[1] - h / 2, width: b[0] - a[0] + 0.4, height: h }, style: { fill: trackLevels[t][api.value(2)][1] } };
      } },
  ];

  return {
    animation: false,
    backgroundColor: "#fff",
    grid: grids,
    xAxis,
    yAxis,
    visualMap: [
      { type: "continuous", show: false, seriesIndex: 0, dimension: 2, min: 0, max: 9, inRange: { color: heatAColors } },
      { type: "continuous", show: false, seriesIndex: 1, dimension: 2, min: 0, max: 9, inRange: { color: heatGColors } },
    ],
    series,
    graphic: graphics,
  };
}

export default function App() {
  const ref = useRef<HTMLDivElement>(null);
  useEffect(() => {
    const chart = echarts.init(ref.current as HTMLDivElement, undefined, { renderer: "svg" });
    chart.setOption(buildOption() as any);
    return () => chart.dispose();
  }, []);
  return <div ref={ref} style={{ position: "absolute", left: 0, top: 0, width: 685, height: 939 }} />;
}
